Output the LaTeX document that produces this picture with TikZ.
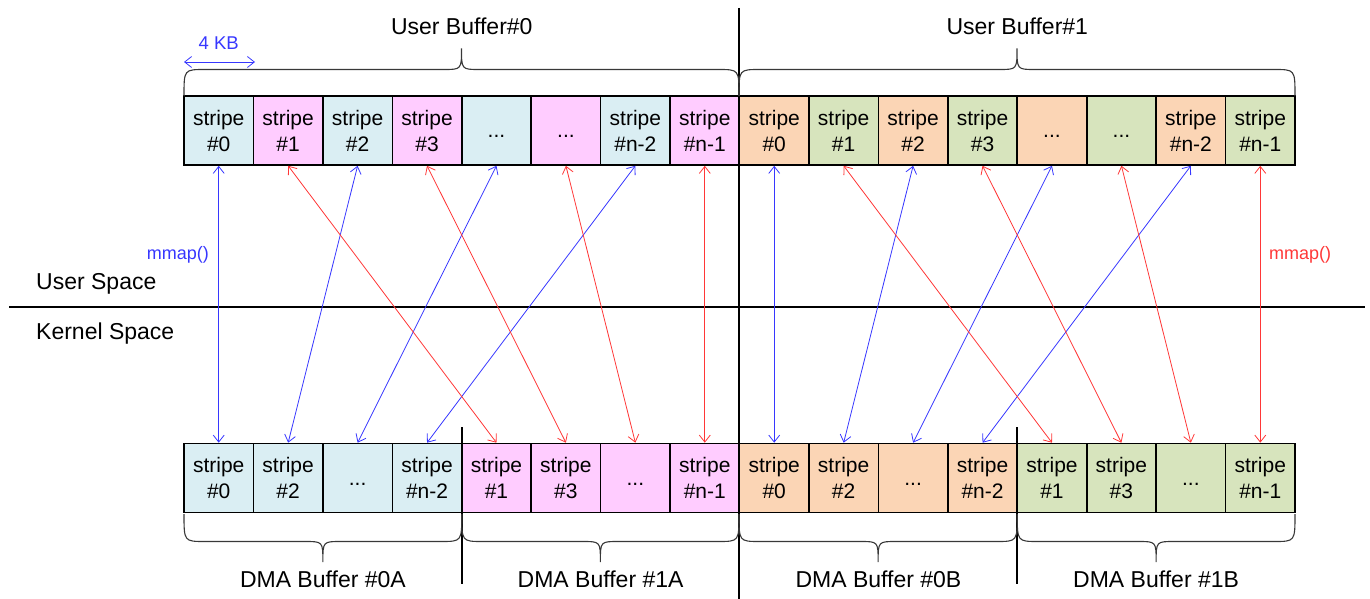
\documentclass[tikz,border=0pt]{standalone}
\usepackage{fontspec}
\setmainfont{Liberation Sans}
\usetikzlibrary{arrows.meta}

\definecolor{cblue}{HTML}{DAEEF3}
\definecolor{cpink}{HTML}{FFCCFF}
\definecolor{corange}{HTML}{FBD5B5}
\definecolor{cgreen}{HTML}{D7E4BD}
\definecolor{lnblue}{RGB}{55,55,255}
\definecolor{lnred}{RGB}{255,55,55}
\definecolor{bracegray}{HTML}{383838}

% three dots set on a full-height strut so they sit on the text baseline
\newcommand{\ellip}{\rule[-2pt]{0pt}{18pt}...}

% curly brace: #1 left x, #2 right x, #3 y of the ends, #4 y of the flat part, #5 y of the tip
\newcommand{\curlybrace}[5]{%
  \draw[bracestyle] (#1,#3) .. controls (#1,#4) .. ({#1+21},#4)
    -- ({(#1+#2)/2-18},#4) .. controls ({(#1+#2)/2},#4) .. ({(#1+#2)/2},#5)
    .. controls ({(#1+#2)/2},#4) .. ({(#1+#2)/2+18},#4)
    -- ({#2-21},#4) .. controls (#2,#4) .. (#2,#3);}

\begin{document}
\begin{tikzpicture}[x=1pt,y=-1pt,
  stripebox/.style={draw=black, line width=1.6pt, minimum width=69.4375pt,
    minimum height=69pt, inner sep=0pt, align=center,
    font=\fontsize{21}{26}\selectfont},
  bigtext/.style={inner sep=0pt, font=\fontsize{23}{28}\selectfont},
  bluemap/.style={draw=lnblue, line width=0.8pt, {Straight Barb[length=7pt,width=11pt]}-{Straight Barb[length=7pt,width=11pt]}},
  redmap/.style={draw=lnred, line width=0.8pt, {Straight Barb[length=7pt,width=11pt]}-{Straight Barb[length=7pt,width=11pt]}},
  sepline/.style={draw=black, line width=2pt},
  bracestyle/.style={draw=bracegray, line width=1.1pt},
]
\useasboundingbox (0,0) rectangle (1370,599);

% user buffers (top row)
\foreach \i/\col/\txt in {
  0/cblue/{stripe\\\#0}, 1/cpink/{stripe\\\#1}, 2/cblue/{stripe\\\#2}, 3/cpink/{stripe\\\#3},
  4/cblue/{\ellip}, 5/cpink/{\ellip}, 6/cblue/{stripe\\\#n-2}, 7/cpink/{stripe\\\#n-1},
  8/corange/{stripe\\\#0}, 9/cgreen/{stripe\\\#1}, 10/corange/{stripe\\\#2}, 11/cgreen/{stripe\\\#3},
  12/corange/{\ellip}, 13/cgreen/{\ellip}, 14/corange/{stripe\\\#n-2}, 15/cgreen/{stripe\\\#n-1}}
  \node[stripebox, fill=\col] (t\i) at ({184+69.4375*(\i+0.5)},130.5) {\txt};

% DMA buffers (bottom row)
\foreach \i/\col/\txt in {
  0/cblue/{stripe\\\#0}, 1/cblue/{stripe\\\#2}, 2/cblue/{\ellip}, 3/cblue/{stripe\\\#n-2},
  4/cpink/{stripe\\\#1}, 5/cpink/{stripe\\\#3}, 6/cpink/{\ellip}, 7/cpink/{stripe\\\#n-1},
  8/corange/{stripe\\\#0}, 9/corange/{stripe\\\#2}, 10/corange/{\ellip}, 11/corange/{stripe\\\#n-2},
  12/cgreen/{stripe\\\#1}, 13/cgreen/{stripe\\\#3}, 14/cgreen/{\ellip}, 15/cgreen/{stripe\\\#n-1}}
  \node[stripebox, fill=\col] (b\i) at ({184+69.4375*(\i+0.5)},478) {\txt};

% separators
\draw[sepline] (739,8) -- (739,599);
\draw[sepline] (9,307) -- (1365,307);
\draw[sepline] (461.75,427) -- (461.75,584);
\draw[sepline] (1017.25,427) -- (1017.25,584);

% mmap() mappings
\foreach \a/\b in {0/0,2/1,4/2,6/3,8/8,10/9,12/10,14/11}
  \draw[bluemap] (t\a.south) -- (b\b.north);
\foreach \a/\b in {1/4,3/5,5/6,7/7,9/12,11/13,13/14,15/15}
  \draw[redmap] (t\a.south) -- (b\b.north);

% braces
\curlybrace{184}{739}{96}{69.5}{48.5}
\curlybrace{739}{1295}{96}{69.5}{48.5}
\curlybrace{184}{461.75}{514}{541.5}{562}
\curlybrace{461.75}{739}{514}{541.5}{562}
\curlybrace{739}{1017.25}{514}{541.5}{562}
\curlybrace{1017.25}{1295}{514}{541.5}{562}

% labels
\node[bigtext, anchor=base] (ub0) at (461.75,35) {User Buffer\#0};
\node[bigtext, anchor=base] (ub1) at (1017.25,35) {User Buffer\#1};
\node[bigtext, anchor=base west] (us) at (36,289) {User Space};
\node[bigtext, anchor=base west] (ks) at (36,339) {Kernel Space};
\node[bigtext, anchor=base] (d0a) at (322.9,587) {DMA Buffer \#0A};
\node[bigtext, anchor=base] (d1a) at (600.6,587) {DMA Buffer \#1A};
\node[bigtext, anchor=base] (d0b) at (878.4,587) {DMA Buffer \#0B};
\node[bigtext, anchor=base] (d1b) at (1156.1,587) {DMA Buffer \#1B};
\node[inner sep=0pt, anchor=base east, text=lnblue, font=\fontsize{18}{22}\selectfont] (mb) at (209,259) {mmap()};
\node[inner sep=0pt, anchor=base west, text=lnred, font=\fontsize{18}{22}\selectfont] (mr) at (1269,259) {mmap()};

% stripe size marker
\node[inner sep=0pt, anchor=base, text=lnblue, font=\fontsize{18.5}{22}\selectfont] (kb) at (218.7,50) {4 KB};
\coordinate (kbL) at (184,62);
\coordinate (kbR) at (255,62);
\draw[bluemap] (kbL) -- (kbR);
\end{tikzpicture}
\end{document}
